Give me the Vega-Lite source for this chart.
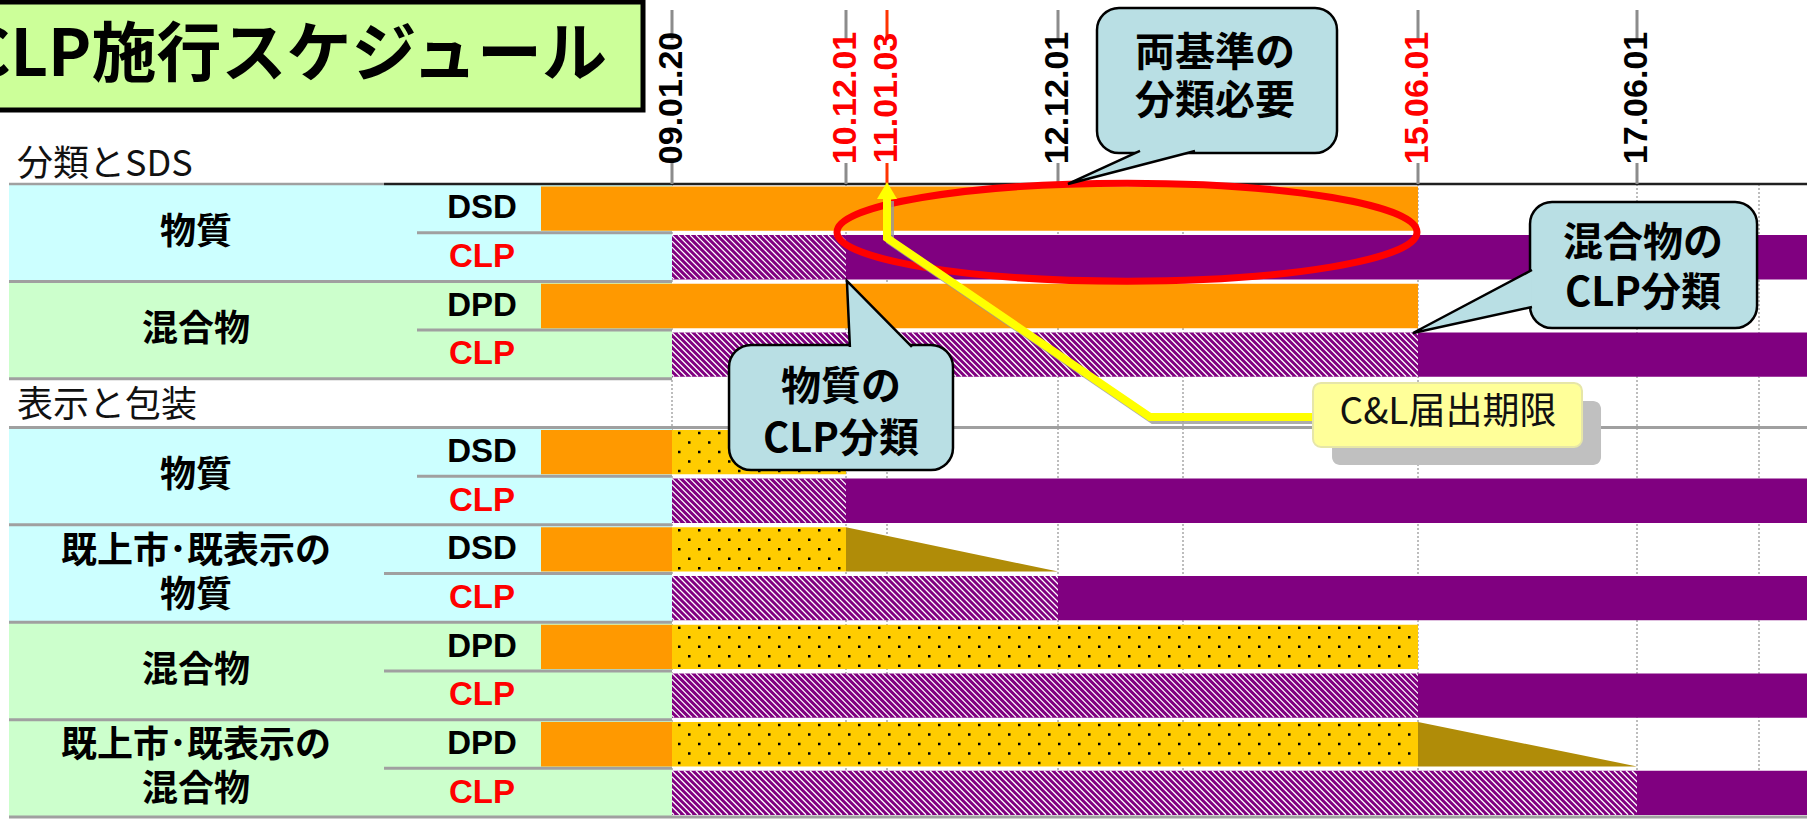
{
  "$schema": "https://vega.github.io/schema/vega-lite/v6.json",
  "width": 1807,
  "height": 819,
  "autosize": "none",
  "padding": 0,
  "background": "#ffffff",
  "config": {"view": {"stroke": null}},
  "datasets": {
    "grid": [{"t": 2009.05, "v": 0, "v2": 13}, {"t": 2010.92, "v": 0, "v2": 13}, {"t": 2011.01, "v": 0, "v2": 13}, {"t": 2012.92, "v": 0, "v2": 13}, {"t": 2013.92, "v": 0, "v2": 13}, {"t": 2015.42, "v": 0, "v2": 13}, {"t": 2017.42, "v": 0, "v2": 13}, {"t": 2018.42, "v": 0, "v2": 13}],
    "ticks": [
      {"label": "09.01.20", "t": 2009.05, "v": 0, "kind": "normal"},
      {"label": "10.12.01", "t": 2010.92, "v": 0, "kind": "key"},
      {"label": "11.01.03", "t": 2011.01, "v": 0, "kind": "deadline"},
      {"label": "12.12.01", "t": 2012.92, "v": 0, "kind": "normal"},
      {"label": "15.06.01", "t": 2015.42, "v": 0, "kind": "key"},
      {"label": "17.06.01", "t": 2017.42, "v": 0, "kind": "normal"}
    ],
    "titlebox": [{"t": 1999.6, "t2": 2008.707, "v": -3.737, "v2": -1.52}],
    "title": [{"label": "CLP施行スケジュール", "t": 2008.28, "v": -2.62}],
    "headers": [{"label": "分類とSDS", "t": 2000.118, "v": -0.4}, {"label": "表示と包装", "t": 2000.118, "v": 4.55}],
    "groups": [
      {"label": "物質", "lines": 1, "t": 2000, "t2": 2009.05, "tx": 2002.75, "v": 0, "v2": 2, "mid": 1, "grp": "s"},
      {"label": "混合物", "lines": 1, "t": 2000, "t2": 2009.05, "tx": 2002.75, "v": 2, "v2": 4, "mid": 3, "grp": "m"},
      {"label": "物質", "lines": 1, "t": 2000, "t2": 2009.05, "tx": 2002.75, "v": 5, "v2": 7, "mid": 6, "grp": "s"},
      {"label": "既上市･既表示の\n物質", "lines": 2, "t": 2000, "t2": 2009.05, "tx": 2002.75, "v": 7, "v2": 9, "mid": 8, "grp": "s"},
      {"label": "混合物", "lines": 1, "t": 2000, "t2": 2009.05, "tx": 2002.75, "v": 9, "v2": 11, "mid": 10, "grp": "m"},
      {"label": "既上市･既表示の\n混合物", "lines": 2, "t": 2000, "t2": 2009.05, "tx": 2002.75, "v": 11, "v2": 13, "mid": 12, "grp": "m"}
    ],
    "rows": [
      {"label": "DSD", "tx": 2006.786, "v": 0.5, "std": "old"}, {"label": "CLP", "tx": 2006.786, "v": 1.5, "std": "clp"},
      {"label": "DPD", "tx": 2006.786, "v": 2.5, "std": "old"}, {"label": "CLP", "tx": 2006.786, "v": 3.5, "std": "clp"},
      {"label": "DSD", "tx": 2006.786, "v": 5.5, "std": "old"}, {"label": "CLP", "tx": 2006.786, "v": 6.5, "std": "clp"},
      {"label": "DSD", "tx": 2006.786, "v": 7.5, "std": "old"}, {"label": "CLP", "tx": 2006.786, "v": 8.5, "std": "clp"},
      {"label": "DPD", "tx": 2006.786, "v": 9.5, "std": "old"}, {"label": "CLP", "tx": 2006.786, "v": 10.5, "std": "clp"},
      {"label": "DPD", "tx": 2006.786, "v": 11.5, "std": "old"}, {"label": "CLP", "tx": 2006.786, "v": 12.5, "std": "clp"}
    ],
    "seps": [
      {"t": 2000, "t2": 2009.05, "v": 2}, {"t": 2000, "t2": 2009.05, "v": 4}, {"t": 2000, "t2": 2018.8, "v": 5},
      {"t": 2000, "t2": 2009.05, "v": 7}, {"t": 2000, "t2": 2009.05, "v": 9}, {"t": 2000, "t2": 2009.05, "v": 11},
      {"t": 2000, "t2": 2018.8, "v": 13},
      {"t": 2006, "t2": 2009.05, "v": 1}, {"t": 2006, "t2": 2009.05, "v": 3}, {"t": 2006, "t2": 2009.05, "v": 6},
      {"t": 2005.515, "t2": 2009.05, "v": 8}, {"t": 2005.515, "t2": 2009.05, "v": 10}, {"t": 2005.515, "t2": 2009.05, "v": 12}
    ],
    "axisline": [{"t": 2000, "t2": 2005.515, "v": 0, "k": "light"}, {"t": 2005.515, "t2": 2018.8, "v": 0, "k": "dark"}],
    "bars": [
      {"row": 0, "phase": "old", "t": 2007.5, "t2": 2015.42, "v": 0.05, "v2": 0.96},
      {"row": 2, "phase": "old", "t": 2007.5, "t2": 2015.42, "v": 2.05, "v2": 2.96},
      {"row": 5, "phase": "old", "t": 2007.5, "t2": 2009.05, "v": 5.05, "v2": 5.96},
      {"row": 7, "phase": "old", "t": 2007.5, "t2": 2009.05, "v": 7.05, "v2": 7.96},
      {"row": 9, "phase": "old", "t": 2007.5, "t2": 2009.05, "v": 9.05, "v2": 9.96},
      {"row": 11, "phase": "old", "t": 2007.5, "t2": 2009.05, "v": 11.05, "v2": 11.96},
      {"row": 5, "phase": "dotted", "t": 2009.05, "t2": 2010.92, "v": 5.05, "v2": 5.96},
      {"row": 7, "phase": "dotted", "t": 2009.05, "t2": 2010.92, "v": 7.05, "v2": 7.96},
      {"row": 9, "phase": "dotted", "t": 2009.05, "t2": 2015.42, "v": 9.05, "v2": 9.96},
      {"row": 11, "phase": "dotted", "t": 2009.05, "t2": 2015.42, "v": 11.05, "v2": 11.96},
      {"row": 1, "phase": "hatched", "t": 2009.05, "t2": 2010.92, "v": 1.05, "v2": 1.96},
      {"row": 3, "phase": "hatched", "t": 2009.05, "t2": 2015.42, "v": 3.05, "v2": 3.96},
      {"row": 6, "phase": "hatched", "t": 2009.05, "t2": 2010.92, "v": 6.05, "v2": 6.96},
      {"row": 8, "phase": "hatched", "t": 2009.05, "t2": 2012.92, "v": 8.05, "v2": 8.96},
      {"row": 10, "phase": "hatched", "t": 2009.05, "t2": 2015.42, "v": 10.05, "v2": 10.96},
      {"row": 12, "phase": "hatched", "t": 2009.05, "t2": 2017.42, "v": 12.05, "v2": 12.96},
      {"row": 1, "phase": "solid", "t": 2010.92, "t2": 2018.8, "v": 1.05, "v2": 1.96},
      {"row": 3, "phase": "solid", "t": 2015.42, "t2": 2018.8, "v": 3.05, "v2": 3.96},
      {"row": 6, "phase": "solid", "t": 2010.92, "t2": 2018.8, "v": 6.05, "v2": 6.96},
      {"row": 8, "phase": "solid", "t": 2012.92, "t2": 2018.8, "v": 8.05, "v2": 8.96},
      {"row": 10, "phase": "solid", "t": 2015.42, "t2": 2018.8, "v": 10.05, "v2": 10.96},
      {"row": 12, "phase": "solid", "t": 2017.42, "t2": 2018.8, "v": 12.05, "v2": 12.96}
    ],
    "triangles": [
      {"id": "a", "t": 2010.92, "v": 7.05, "v2": 7.96}, {"id": "a", "t": 2012.92, "v": 7.96, "v2": 7.96},
      {"id": "b", "t": 2015.42, "v": 11.05, "v2": 11.96}, {"id": "b", "t": 2017.42, "v": 11.96, "v2": 11.96}
    ],
    "ellipse": [{"t": 2013.472, "v": 0.99}],
    "arrow": [
      {"ord": 1, "t": 2011.01, "v": 0.287}, {"ord": 2, "t": 2011.01, "v": 1.109},
      {"ord": 3, "t": 2013.656, "v": 4.784}, {"ord": 4, "t": 2014.75, "v": 4.784}
    ],
    "arrowhead": [{"t": 2011.01, "v": -0.04}],
    "clbox": [{"t": 2014.75, "t2": 2016.918, "v": 4.086, "v2": 5.4}],
    "cltext": [{"label": "C&L届出期限", "t": 2015.694, "v": 4.702}],
    "bubbles": [
      {"id": "a", "t": 2013.232, "t2": 2014.903, "v": -3.614, "v2": -0.637},
      {"id": "b", "t": 2009.663, "t2": 2011.747, "v": 3.306, "v2": 5.873},
      {"id": "c", "t": 2016.443, "t2": 2018.404, "v": 0.37, "v2": 2.957}
    ],
    "tails": [
      {"id": "a", "t": 2013.0, "v": 0.0},
      {"id": "b", "t": 2010.922, "v": 1.992},
      {"id": "c", "t": 2015.388, "v": 3.06}
    ],
    "bubbletext": [
      {"label": "両基準の", "t": 2014.124, "v": -2.669},
      {"label": "分類必要", "t": 2014.124, "v": -1.684},
      {"label": "物質の", "t": 2010.866, "v": 4.189},
      {"label": "CLP分類", "t": 2010.866, "v": 5.257},
      {"label": "混合物の", "t": 2017.469, "v": 1.232},
      {"label": "CLP分類", "t": 2017.469, "v": 2.259}
    ]
  },
  "encoding": {
    "x": {"field": "t", "type": "quantitative", "axis": null,
      "scale": {"domain": [1999.8, 2000, 2006, 2007.5, 2009.05, 2010.92, 2011.01, 2012.92, 2013.92, 2015.42, 2017.42, 2018.42, 2018.8],
                "range": [0, 9, 417, 541, 672, 846, 887, 1058, 1183, 1418, 1637, 1759, 1807], "nice": false, "zero": false}},
    "y": {"field": "v", "type": "quantitative", "axis": null,
      "scale": {"domain": [-3.778, 13.04], "range": [0, 819], "nice": false, "zero": false}}
  },
  "layer": [
    {"data": {"name": "grid"}, "mark": {"type": "rule", "stroke": "#A8A8A8", "strokeWidth": 1.5, "strokeDash": [2, 2]},
     "encoding": {"y2": {"field": "v2"}}},
    {"data": {"name": "titlebox"}, "mark": {"type": "rect", "fill": "#CCFF99", "stroke": "#000000", "strokeWidth": 5},
     "encoding": {"x2": {"field": "t2"}, "y2": {"field": "v2"}}},
    {"data": {"name": "title"}, "mark": {"type": "text", "align": "right", "baseline": "middle", "font": "Noto Sans CJK JP", "fontSize": 65, "fontWeight": "bold", "fill": "#000000"},
     "encoding": {"text": {"field": "label"}}},
    {"data": {"name": "groups"}, "mark": {"type": "rect"},
     "encoding": {"x2": {"field": "t2"}, "y2": {"field": "v2"},
       "fill": {"field": "grp", "type": "nominal", "scale": {"domain": ["s", "m"], "range": ["#CCFFFF", "#CCFFCC"]}, "legend": null}}},
    {"data": {"name": "headers"}, "mark": {"type": "text", "align": "left", "baseline": "middle", "font": "Noto Sans CJK JP", "fontSize": 36, "fill": "#111111"},
     "encoding": {"text": {"field": "label"}}},
    {"data": {"name": "seps"}, "mark": {"type": "rule", "stroke": "#A0A0A0", "strokeWidth": 3},
     "encoding": {"x2": {"field": "t2"}}},
    {"data": {"name": "axisline"}, "mark": {"type": "rule", "strokeWidth": 2.5},
     "encoding": {"x2": {"field": "t2"},
       "stroke": {"field": "k", "type": "nominal", "scale": {"domain": ["light", "dark"], "range": ["#A0A0A0", "#202020"]}, "legend": null}}},
    {"data": {"name": "bars"}, "transform": [{"filter": "datum.phase !== 'solid'"}], "mark": {"type": "rect"},
     "encoding": {"x2": {"field": "t2"}, "y2": {"field": "v2"},
       "fill": {"field": "phase", "type": "nominal", "scale": {"domain": ["old", "dotted", "hatched"], "range": ["#FF9900", "#FFCC00", "#800080"]}, "legend": null}}},
    {"data": {"name": "bars"}, "transform": [{"filter": "datum.phase === 'dotted' && datum.t2 < 2011"}],
     "mark": {"type": "point", "shape": "M6,3h168M16,12.5h158M6,22h168M16,31.5h158M6,41h168", "size": 4, "filled": false, "stroke": "#000000", "strokeWidth": 2.5, "strokeDash": [2.5, 17.5], "strokeCap": "butt", "opacity": 1},
     "encoding": {}},
    {"data": {"name": "bars"}, "transform": [{"filter": "datum.phase === 'dotted' && datum.t2 > 2011"}],
     "mark": {"type": "point", "shape": "M6,3h740M16,12.5h730M6,22h740M16,31.5h730M6,41h740", "size": 4, "filled": false, "stroke": "#000000", "strokeWidth": 2.5, "strokeDash": [2.5, 17.5], "strokeCap": "butt", "opacity": 1},
     "encoding": {}},
    {"data": {"name": "triangles"}, "mark": {"type": "area", "fill": "#B08C08", "opacity": 1},
     "encoding": {"y2": {"field": "v2"}, "detail": {"field": "id"}}},
    {"data": {"name": "bars"}, "transform": [{"filter": "datum.phase === 'hatched'"}],
     "mark": {"type": "point", "size": 4, "filled": false, "stroke": "#FFFFFF", "strokeWidth": 1.3, "strokeCap": "butt", "opacity": 1,
       "shape": "M0,42l2,2M0,36l8,8M0,30l14,14M0,24l20,20M0,18l26,26M0,12l32,32M0,6l38,38M0,0l44,44m-38,-44l44,44m-38,-44l44,44m-38,-44l44,44m-38,-44l44,44m-38,-44l44,44m-38,-44l44,44m-38,-44l44,44m-38,-44l44,44m-38,-44l44,44m-38,-44l44,44m-38,-44l44,44m-38,-44l44,44m-38,-44l44,44m-38,-44l44,44m-38,-44l44,44m-38,-44l44,44m-38,-44l44,44m-38,-44l44,44m-38,-44l44,44m-38,-44l44,44m-38,-44l44,44m-38,-44l44,44m-38,-44l44,44m-38,-44l44,44m-38,-44l44,44m-38,-44l44,44m-38,-44l44,44m-38,-44l44,44m-38,-44l44,44m-38,-44l44,44m-38,-44l44,44m-38,-44l44,44m-38,-44l44,44m-38,-44l44,44m-38,-44l44,44m-38,-44l44,44m-38,-44l44,44m-38,-44l44,44m-38,-44l44,44m-38,-44l44,44m-38,-44l44,44m-38,-44l44,44m-38,-44l44,44m-38,-44l44,44m-38,-44l44,44m-38,-44l44,44m-38,-44l44,44m-38,-44l44,44m-38,-44l44,44m-38,-44l44,44m-38,-44l44,44m-38,-44l44,44m-38,-44l44,44m-38,-44l44,44m-38,-44l44,44m-38,-44l44,44m-38,-44l44,44m-38,-44l44,44m-38,-44l44,44m-38,-44l44,44m-38,-44l44,44m-38,-44l44,44m-38,-44l44,44m-38,-44l44,44m-38,-44l44,44m-38,-44l44,44m-38,-44l44,44m-38,-44l44,44m-38,-44l44,44m-38,-44l44,44m-38,-44l44,44m-38,-44l44,44m-38,-44l44,44m-38,-44l44,44m-38,-44l44,44m-38,-44l44,44m-38,-44l44,44m-38,-44l44,44m-38,-44l44,44m-38,-44l44,44m-38,-44l44,44m-38,-44l44,44m-38,-44l44,44m-38,-44l44,44m-38,-44l44,44m-38,-44l44,44m-38,-44l44,44m-38,-44l44,44m-38,-44l44,44m-38,-44l44,44m-38,-44l44,44m-38,-44l44,44m-38,-44l44,44m-38,-44l44,44m-38,-44l44,44m-38,-44l44,44m-38,-44l44,44m-38,-44l44,44m-38,-44l44,44m-38,-44l44,44m-38,-44l44,44m-38,-44l44,44m-38,-44l44,44m-38,-44l44,44m-38,-44l44,44m-38,-44l44,44m-38,-44l44,44m-38,-44l44,44m-38,-44l44,44m-38,-44l44,44m-38,-44l44,44m-38,-44l44,44m-38,-44l44,44m-38,-44l44,44m-38,-44l44,44m-38,-44l44,44m-38,-44l44,44m-38,-44l44,44m-38,-44l44,44m-38,-44l44,44m-38,-44l44,44m-38,-44l44,44m-38,-44l44,44m-38,-44l44,44m-38,-44l44,44m-38,-44l44,44m-38,-44l44,44m-38,-44l44,44m-38,-44l44,44m-38,-44l44,44m-38,-44l44,44m-38,-44l44,44m-38,-44l44,44m-38,-44l44,44m-38,-44l44,44m-38,-44l44,44m-38,-44l44,44m-38,-44l44,44m-38,-44l44,44m-38,-44l44,44m-38,-44l44,44m-38,-44l44,44m-38,-44l44,44m-38,-44l44,44m-38,-44l44,44m-38,-44l44,44m-38,-44l44,44m-38,-44l44,44m-38,-44l44,44m-38,-44l44,44m-38,-44l44,44m-38,-44l44,44m-38,-44l44,44m-38,-44l44,44m-38,-44l44,44m-38,-44l44,44m-38,-44l44,44m-38,-44l44,44m-38,-44l44,44m-38,-44l44,44m-38,-44l44,44m-38,-44l44,44m-38,-44l44,44m-38,-44l44,44m-38,-44l44,44m-38,-44l44,44m-38,-44l44,44m-38,-44l44,44m-38,-44l44,44m-38,-44l44,44m-38,-44l44,44m-38,-44l44,44m-38,-44l44,44m-38,-44l44,44m-38,-44l44,44m-38,-44l44,44m-38,-44l44,44m-38,-44l44,44m-38,-44l44,44"},
     "encoding": {}},
    {"data": {"name": "bars"}, "transform": [{"filter": "datum.phase === 'solid'"}], "mark": {"type": "rect", "fill": "#800080"},
     "encoding": {"x2": {"field": "t2"}, "y2": {"field": "v2"}}},
    {"data": {"name": "ticks"}, "mark": {"type": "point", "size": 4, "filled": false, "strokeWidth": 3, "strokeCap": "butt", "opacity": 1, "shape": "M0,-174L0,-144M0,-21L0,0"},
     "encoding": {"stroke": {"field": "kind", "type": "nominal", "scale": {"domain": ["normal", "key", "deadline"], "range": ["#8C8C8C", "#8C8C8C", "#FF3300"]}, "legend": null}}},
    {"data": {"name": "ticks"}, "mark": {"type": "text", "angle": 270, "align": "center", "baseline": "middle", "dx": 86, "font": "Liberation Sans Narrow, Liberation Sans, Arial", "fontSize": 34, "fontWeight": "bold"},
     "encoding": {"text": {"field": "label"},
       "fill": {"field": "kind", "type": "nominal", "scale": {"domain": ["normal", "key", "deadline"], "range": ["#000000", "#FF0000", "#FF0000"]}, "legend": null}}},
    {"data": {"name": "groups"}, "transform": [{"filter": "datum.lines === 1"}],
     "mark": {"type": "text", "align": "center", "baseline": "middle", "font": "Noto Sans CJK JP", "fontSize": 36, "fontWeight": "bold", "fill": "#000000"},
     "encoding": {"x": {"field": "tx", "type": "quantitative"}, "y": {"field": "mid", "type": "quantitative"}, "text": {"field": "label"}}},
    {"data": {"name": "groups"}, "transform": [{"filter": "datum.lines === 2"}],
     "mark": {"type": "text", "align": "center", "baseline": "middle", "dy": -22, "font": "Noto Sans CJK JP", "fontSize": 36, "fontWeight": "bold", "lineBreak": "\n", "lineHeight": 44, "fill": "#000000"},
     "encoding": {"x": {"field": "tx", "type": "quantitative"}, "y": {"field": "mid", "type": "quantitative"}, "text": {"field": "label"}}},
    {"data": {"name": "rows"}, "transform": [{"filter": "datum.std === 'old'"}],
     "mark": {"type": "text", "align": "center", "baseline": "middle", "font": "Liberation Sans", "fontSize": 33, "fontWeight": "bold", "fill": "#000000"},
     "encoding": {"x": {"field": "tx", "type": "quantitative"}, "text": {"field": "label"}}},
    {"data": {"name": "rows"}, "transform": [{"filter": "datum.std === 'clp'"}],
     "mark": {"type": "text", "align": "center", "baseline": "middle", "font": "Liberation Sans", "fontSize": 33, "fontWeight": "bold", "fill": "#FF0000"},
     "encoding": {"x": {"field": "tx", "type": "quantitative"}, "text": {"field": "label"}}},
    {"data": {"name": "ellipse"}, "mark": {"type": "point", "size": 4, "filled": false, "stroke": "#FF0000", "strokeWidth": 7, "opacity": 1,
       "shape": "M-290,0A290,49,0,1,0,290,0A290,49,0,1,0,-290,0Z"}, "encoding": {}},
    {"data": {"name": "arrow"}, "mark": {"type": "line", "stroke": "#9A9A9A", "strokeWidth": 8, "opacity": 0.8, "xOffset": 3, "yOffset": 3},
     "encoding": {"order": {"field": "ord"}}},
    {"data": {"name": "arrow"}, "mark": {"type": "line", "stroke": "#FFFF00", "strokeWidth": 8, "strokeJoin": "miter"},
     "encoding": {"order": {"field": "ord"}}},
    {"data": {"name": "arrowhead"}, "mark": {"type": "point", "size": 4, "filled": true, "fill": "#FFFF00", "strokeWidth": 0, "opacity": 1, "shape": "M0,0L-10,17L10,17Z"},
     "encoding": {}},
    {"data": {"name": "clbox"}, "mark": {"type": "rect", "fill": "#C0C0C0", "cornerRadius": 8, "xOffset": 19, "x2Offset": 19, "yOffset": 18, "y2Offset": 18},
     "encoding": {"x2": {"field": "t2"}, "y2": {"field": "v2"}}},
    {"data": {"name": "clbox"}, "mark": {"type": "rect", "fill": "#FFFF99", "stroke": "#E6E6A8", "strokeWidth": 2, "cornerRadius": 8},
     "encoding": {"x2": {"field": "t2"}, "y2": {"field": "v2"}}},
    {"data": {"name": "cltext"}, "mark": {"type": "text", "align": "center", "baseline": "middle", "font": "Noto Sans CJK JP", "fontSize": 37, "fill": "#111111"},
     "encoding": {"text": {"field": "label"}}},
    {"data": {"name": "bubbles"}, "mark": {"type": "rect", "fill": "#B9DFE4", "stroke": "#000000", "strokeWidth": 2.5, "cornerRadius": 22},
     "encoding": {"x2": {"field": "t2"}, "y2": {"field": "v2"}}},
    {"data": {"name": "tails"}, "mark": {"type": "point", "size": 4, "filled": true, "fill": "#B9DFE4", "stroke": "#000000", "strokeWidth": 2.5, "opacity": 1},
     "encoding": {"shape": {"field": "id", "type": "nominal", "scale": {"domain": ["a", "b", "c"], "range": ["M72,-33L0,0L127,-33", "M3,66L0,0L65,66", "M119,-63L0,0L119,-26"]}, "legend": null}}},
    {"data": {"name": "bubbletext"}, "mark": {"type": "text", "align": "center", "baseline": "middle", "font": "Noto Sans CJK JP", "fontSize": 40, "fontWeight": "bold", "fill": "#000000"},
     "encoding": {"text": {"field": "label"}}}
  ],
  "resolve": {"scale": {"fill": "independent", "stroke": "independent", "color": "independent", "shape": "independent"}}
}
